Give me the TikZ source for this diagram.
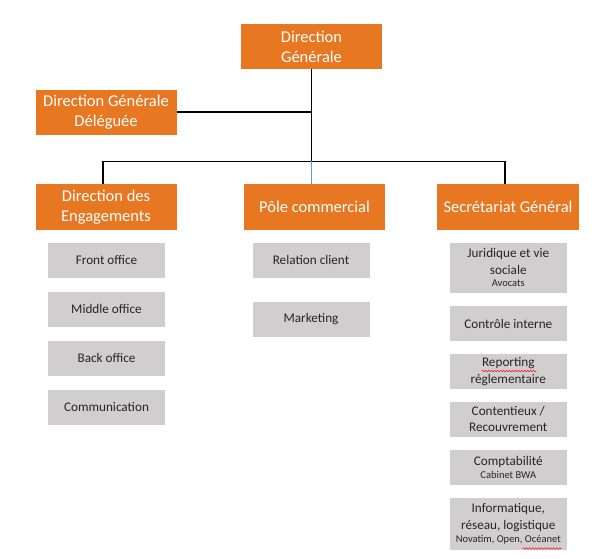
\documentclass[tikz,border=0pt]{standalone}
\usepackage{fontspec}
\setmainfont{Carlito}
\usetikzlibrary{decorations.pathmorphing}

\definecolor{orgorange}{HTML}{E87722}
\definecolor{orggray}{HTML}{D0CECE}
\definecolor{orgtext}{HTML}{262626}
\definecolor{orgblue}{HTML}{5B9BD5}

\newcommand\soustexte[1]{{\fontsize{10.5}{12}\selectfont #1}}

\tikzset{
    chef/.style={fill=orgorange, text=white, minimum width=141pt, minimum height=45pt,
        inner sep=0pt, align=center, font=\fontsize{16.5}{20}\selectfont},
    service/.style={fill=orggray, text=orgtext, minimum width=117pt, minimum height=35pt,
        inner sep=0pt, align=center, font=\fontsize{13.2}{16.5}\selectfont},
    lien/.style={line width=1.2pt, black},
    faute/.style={red, line width=0.5pt, decorate,
        decoration={snake, amplitude=0.8pt, segment length=3pt}}
}

\begin{document}
\begin{tikzpicture}[x=1pt,y=-1pt]

    \useasboundingbox (0,0) rectangle (597,558);

    % Direction
    \node[chef] (dg)  at (311.5,46.5) {Direction\\Générale};
    \node[chef] (dgd) at (106,112) {Direction Générale\\Déléguée};

    % Pôles
    \node[chef, minimum height=46pt] (dde) at (106,207) {Direction des\\Engagements};
    \node[chef, minimum height=46pt] (pc)  at (314.5,207) {Pôle commercial};
    \node[chef, minimum height=46pt, minimum width=142pt] (sg) at (508,207) {Secrétariat Général};

    % Liaisons
    \coordinate (barre) at (311.5,161.3);
    \draw[lien] (dg.south) -- (barre);
    \draw[lien] (dgd.east) -- (dgd.east -| barre);
    \draw[lien] ([xshift=-3pt]dde.north) |- (barre) -| ([xshift=-3pt]sg.north);
    \draw[orgblue, line width=1pt] (barre) -- (barre |- pc.north);

    % Engagements
    \node[service] (front)  at (106.5,260) {Front office};
    \node[service] (middle) at (106.5,309) {Middle office};
    \node[service] (back)   at (106.5,358) {Back office};
    \node[service] (comm)   at (106.5,407) {Communication};

    % Commercial
    \node[service] (relation)  at (311,260) {Relation client};
    \node[service] (marketing) at (311,319.5) {Marketing};

    % Secrétariat
    \node[service, minimum height=50pt] (juridique) at (508.3,267.7)
        {Juridique et vie\\sociale\\[-4pt]\soustexte{Avocats}};
    \node[service] (controle) at (508.3,323.5) {Contrôle interne};
    \node[service] (reporting) at (508.3,371.5) {Reporting\\réglementaire};
    \node[service] (contentieux) at (508.3,419.2) {Contentieux /\\Recouvrement};
    \node[service] (compta) at (508.3,467.5) {Comptabilité\\[-4pt]\soustexte{Cabinet BWA}};
    \node[service, minimum height=52pt] (info) at (508.3,524.2)
        {Informatique,\\réseau, logistique\\[-3pt]\soustexte{Novatim, Open, Océanet}};

    % Soulignements
    \draw[faute] (481.7,371) -- (536.7,371);
    \draw[faute] (522.7,548.5) -- (561.7,548.5);

\end{tikzpicture}
\end{document}
